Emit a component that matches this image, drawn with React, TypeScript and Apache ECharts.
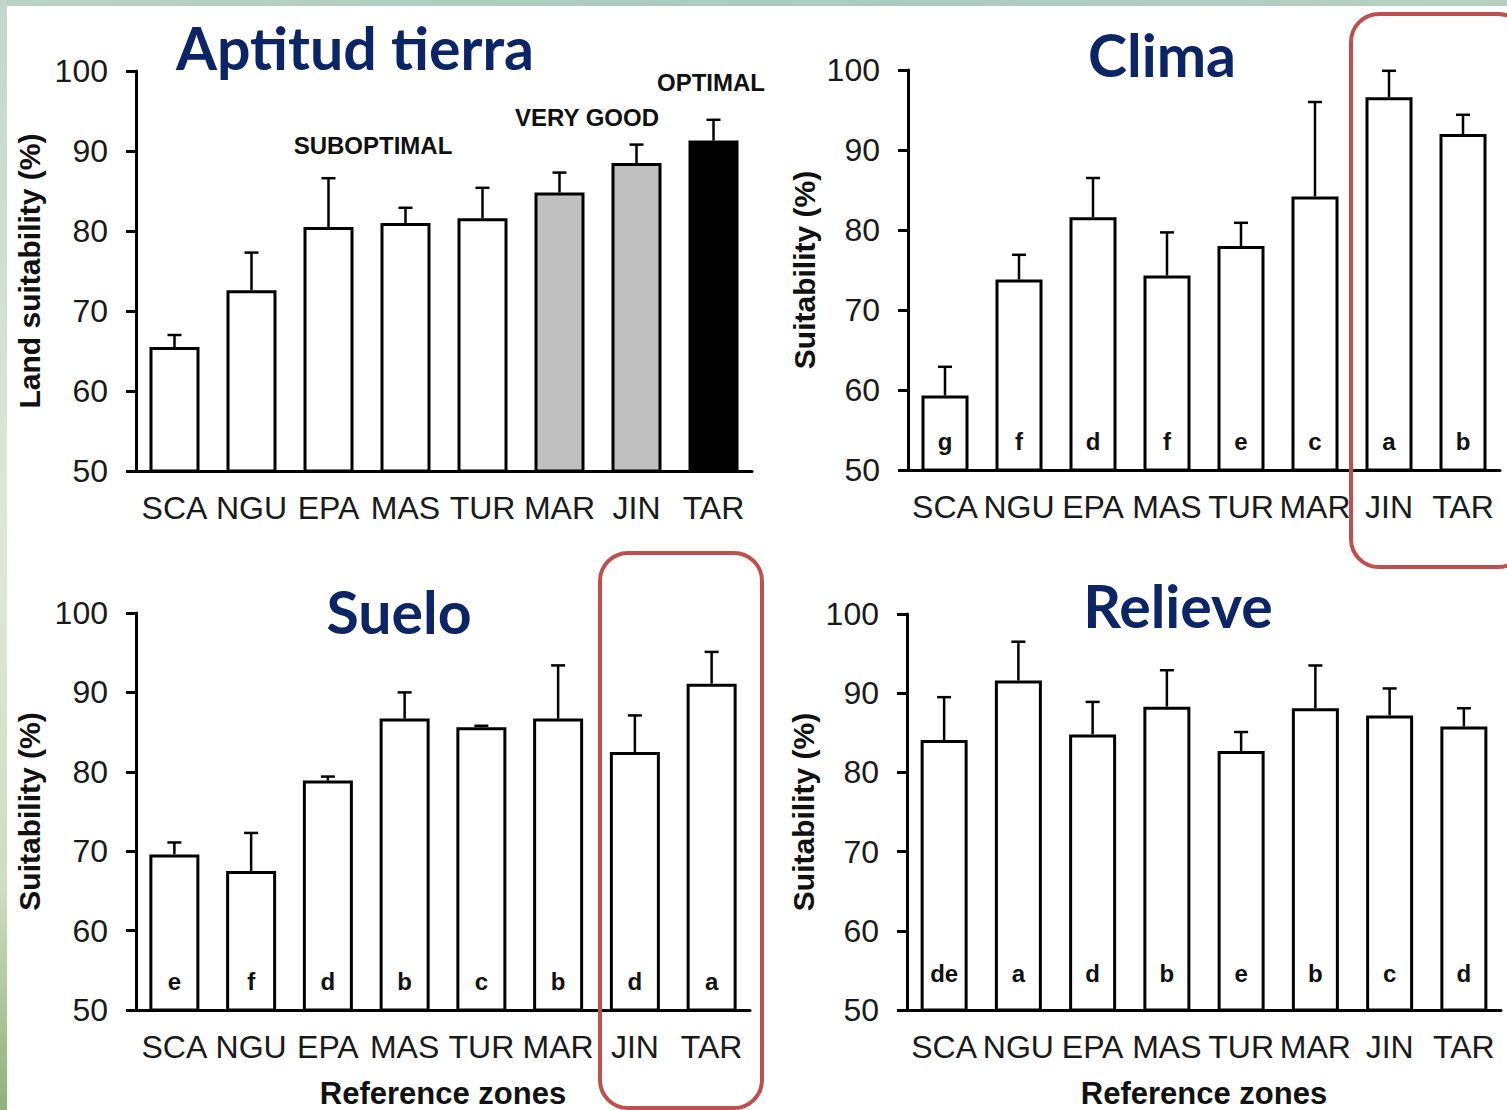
import React, { useEffect, useRef } from "react";
import * as echarts from "echarts";

const categories = ["SCA", "NGU", "EPA", "MAS", "TUR", "MAR", "JIN", "TAR"];
const yTicks = { min: 50, max: 100, interval: 10 };

const landMeans = [65.5, 72.6, 80.5, 81.0, 81.6, 84.8, 88.5, 91.3];
const landErrTop = [67.0, 77.3, 86.6, 82.9, 85.4, 87.3, 90.8, 93.9];
const landColors = ["#ffffff", "#ffffff", "#ffffff", "#ffffff", "#ffffff", "#c0c0c0", "#c0c0c0", "#000000"];

const climaMeans = [59.3, 73.8, 81.6, 74.3, 78.0, 84.2, 96.6, 92.0];
const climaErrTop = [62.9, 76.9, 86.5, 79.7, 80.9, 96.0, 99.9, 94.4];
const climaLetters = ["g", "f", "d", "f", "e", "c", "a", "b"];

const sueloMeans = [69.6, 67.5, 78.9, 86.7, 85.6, 86.7, 82.5, 91.1];
const sueloErrTop = [71.1, 72.3, 79.4, 90.0, 85.8, 93.4, 87.1, 95.1];
const sueloLetters = ["e", "f", "d", "b", "c", "b", "d", "a"];

const relieveMeans = [84.1, 91.6, 84.8, 88.3, 82.7, 88.1, 87.2, 85.8];
const relieveErrTop = [89.5, 96.5, 88.9, 92.9, 85.1, 93.5, 90.6, 88.1];
const relieveLetters = ["de", "a", "d", "b", "e", "b", "c", "d"];

const panelTitles = ["Aptitud tierra", "Clima", "Suelo", "Relieve"];
const yNames = ["Land suitability (%)", "Suitability (%)", "Suitability (%)", "Suitability (%)"];
const xName = "Reference zones";
const classLabels = ["SUBOPTIMAL", "VERY GOOD", "OPTIMAL"];

const ARIAL = "'Liberation Sans', Arial, sans-serif";
const TITLE_FONT = "Lato, 'Open Sans', sans-serif";
const NAVY = "#0b2566";

export default function App() {
  const ref = useRef<HTMLDivElement>(null);

  useEffect(() => {
    if (!ref.current) return;
    const chart = echarts.init(ref.current, undefined, { renderer: "svg" });

    const grids = [
      { left: 136, top: 71, width: 616, height: 400 },
      { left: 908, top: 70, width: 592, height: 400 },
      { left: 136, top: 613, width: 614, height: 400 },
      { left: 907, top: 614, width: 594, height: 400 },
    ];

    const xAxes = grids.map((_, i) => ({
      type: "category",
      gridIndex: i,
      data: categories,
      name: i >= 2 ? xName : "",
      nameLocation: "middle",
      nameGap: 68,
      nameTextStyle: { fontFamily: ARIAL, fontSize: 31, fontWeight: "bold", color: "#111" },
      axisLine: { lineStyle: { color: "#000", width: 3 } },
      axisTick: { alignWithLabel: true, length: 6, lineStyle: { color: "#000", width: 3 } },
      axisLabel: { fontFamily: ARIAL, fontSize: 32, color: "#1a1a1a", margin: 21, interval: 0 },
    }));

    const yAxes = grids.map((_, i) => ({
      type: "value",
      gridIndex: i,
      min: yTicks.min,
      max: yTicks.max,
      interval: yTicks.interval,
      name: yNames[i],
      nameLocation: "middle",
      nameGap: i % 2 === 0 ? 92 : 89,
      nameTextStyle: { fontFamily: ARIAL, fontSize: 30, fontWeight: "bold", color: "#111" },
      axisLine: { show: true, lineStyle: { color: "#000", width: 3 } },
      axisTick: { show: true, length: 10, lineStyle: { color: "#000", width: 3 } },
      axisLabel: { fontFamily: ARIAL, fontSize: 32, color: "#1a1a1a", margin: 28 },
      splitLine: { show: false },
    }));

    const panels = [
      { means: landMeans, err: landErrTop, letters: null as string[] | null, colors: landColors, barWidth: 50, dist: 18 },
      { means: climaMeans, err: climaErrTop, letters: climaLetters, colors: null as string[] | null, barWidth: 47, dist: 18 },
      { means: sueloMeans, err: sueloErrTop, letters: sueloLetters, colors: null, barWidth: 50, dist: 18 },
      { means: relieveMeans, err: relieveErrTop, letters: relieveLetters, colors: null, barWidth: 47, dist: 26 },
    ];

    const series: any[] = [];
    panels.forEach((p, i) => {
      series.push({
        type: "bar",
        xAxisIndex: i,
        yAxisIndex: i,
        barWidth: p.barWidth,
        data: p.means.map((v, k) => ({
          value: v,
          itemStyle: { color: p.colors ? p.colors[k] : "#ffffff", borderColor: "#000", borderWidth: 3 },
        })),
        label: p.letters
          ? {
              show: true,
              position: "insideBottom",
              distance: p.dist,
              formatter: (prm: any) => p.letters![prm.dataIndex],
              fontFamily: ARIAL,
              fontSize: 24,
              fontWeight: "bold",
              color: "#111",
            }
          : { show: false },
        z: 2,
      });
      series.push({
        type: "custom",
        xAxisIndex: i,
        yAxisIndex: i,
        z: 3,
        data: p.means.map((v, k) => [k, v, p.err[k]]),
        renderItem: (params: any, api: any) => {
          const idx = api.value(0);
          const a = api.coord([idx, api.value(1)]);
          const b = api.coord([idx, api.value(2)]);
          const st = { stroke: "#000", lineWidth: 2.5 };
          return {
            type: "group",
            children: [
              { type: "line", shape: { x1: a[0], y1: a[1], x2: b[0], y2: b[1] }, style: st },
              { type: "line", shape: { x1: b[0] - 7, y1: b[1], x2: b[0] + 7, y2: b[1] }, style: st },
            ],
          };
        },
      });
    });

    const titlePos = [
      [355, 47],
      [1162, 54],
      [399, 611],
      [1178, 605],
    ];

    const graphic: any[] = [
      {
        type: "rect",
        shape: { x: 0, y: 0, width: 1507, height: 6 },
        style: {
          fill: new echarts.graphic.LinearGradient(0, 0, 1, 0, [
            { offset: 0, color: "#b9d2c4" },
            { offset: 0.5, color: "#a8cbbd" },
            { offset: 1, color: "#b5d0c3" },
          ]),
        },
        silent: true,
      },
      {
        type: "rect",
        shape: { x: 0, y: 0, width: 7, height: 1110 },
        style: {
          fill: new echarts.graphic.LinearGradient(0, 0, 0, 1, [
            { offset: 0, color: "#c3d6cb" },
            { offset: 0.5, color: "#dfe8d8" },
            { offset: 0.8, color: "#cfdcc0" },
            { offset: 1, color: "#8fb07a" },
          ]),
        },
        silent: true,
      },
      ...panelTitles.map((t, i) => ({
        type: "text",
        x: titlePos[i][0],
        y: titlePos[i][1],
        style: {
          text: t,
          fontFamily: TITLE_FONT,
          fontSize: 59,
          fontWeight: "bold",
          fill: NAVY,
          textAlign: "center",
          textVerticalAlign: "middle",
        },
      })),
      ...classLabels.map((t, i) => ({
        type: "text",
        x: [373, 587, 711][i],
        y: [145, 117, 82][i],
        style: {
          text: t,
          fontFamily: ARIAL,
          fontSize: 24,
          fontWeight: "bold",
          fill: "#111",
          textAlign: "center",
          textVerticalAlign: "middle",
        },
      })),
      {
        type: "rect",
        shape: { x: 1351, y: 14, width: 175, height: 553, r: 28 },
        style: { fill: "none", stroke: "#c0504d", lineWidth: 4 },
        z: 10,
      },
      {
        type: "rect",
        shape: { x: 600, y: 553, width: 162, height: 555, r: 28 },
        style: { fill: "none", stroke: "#c0504d", lineWidth: 4 },
        z: 10,
      },
    ];

    chart.setOption({
      animation: false,
      backgroundColor: "#ffffff",
      grid: grids.map((g) => ({ ...g, containLabel: false })),
      xAxis: xAxes,
      yAxis: yAxes,
      series,
      graphic,
    });

    return () => chart.dispose();
  }, []);

  return (
    <div
      ref={ref}
      style={{ position: "fixed", left: 0, top: 0, width: 1507, height: 1110 }}
    />
  );
}
